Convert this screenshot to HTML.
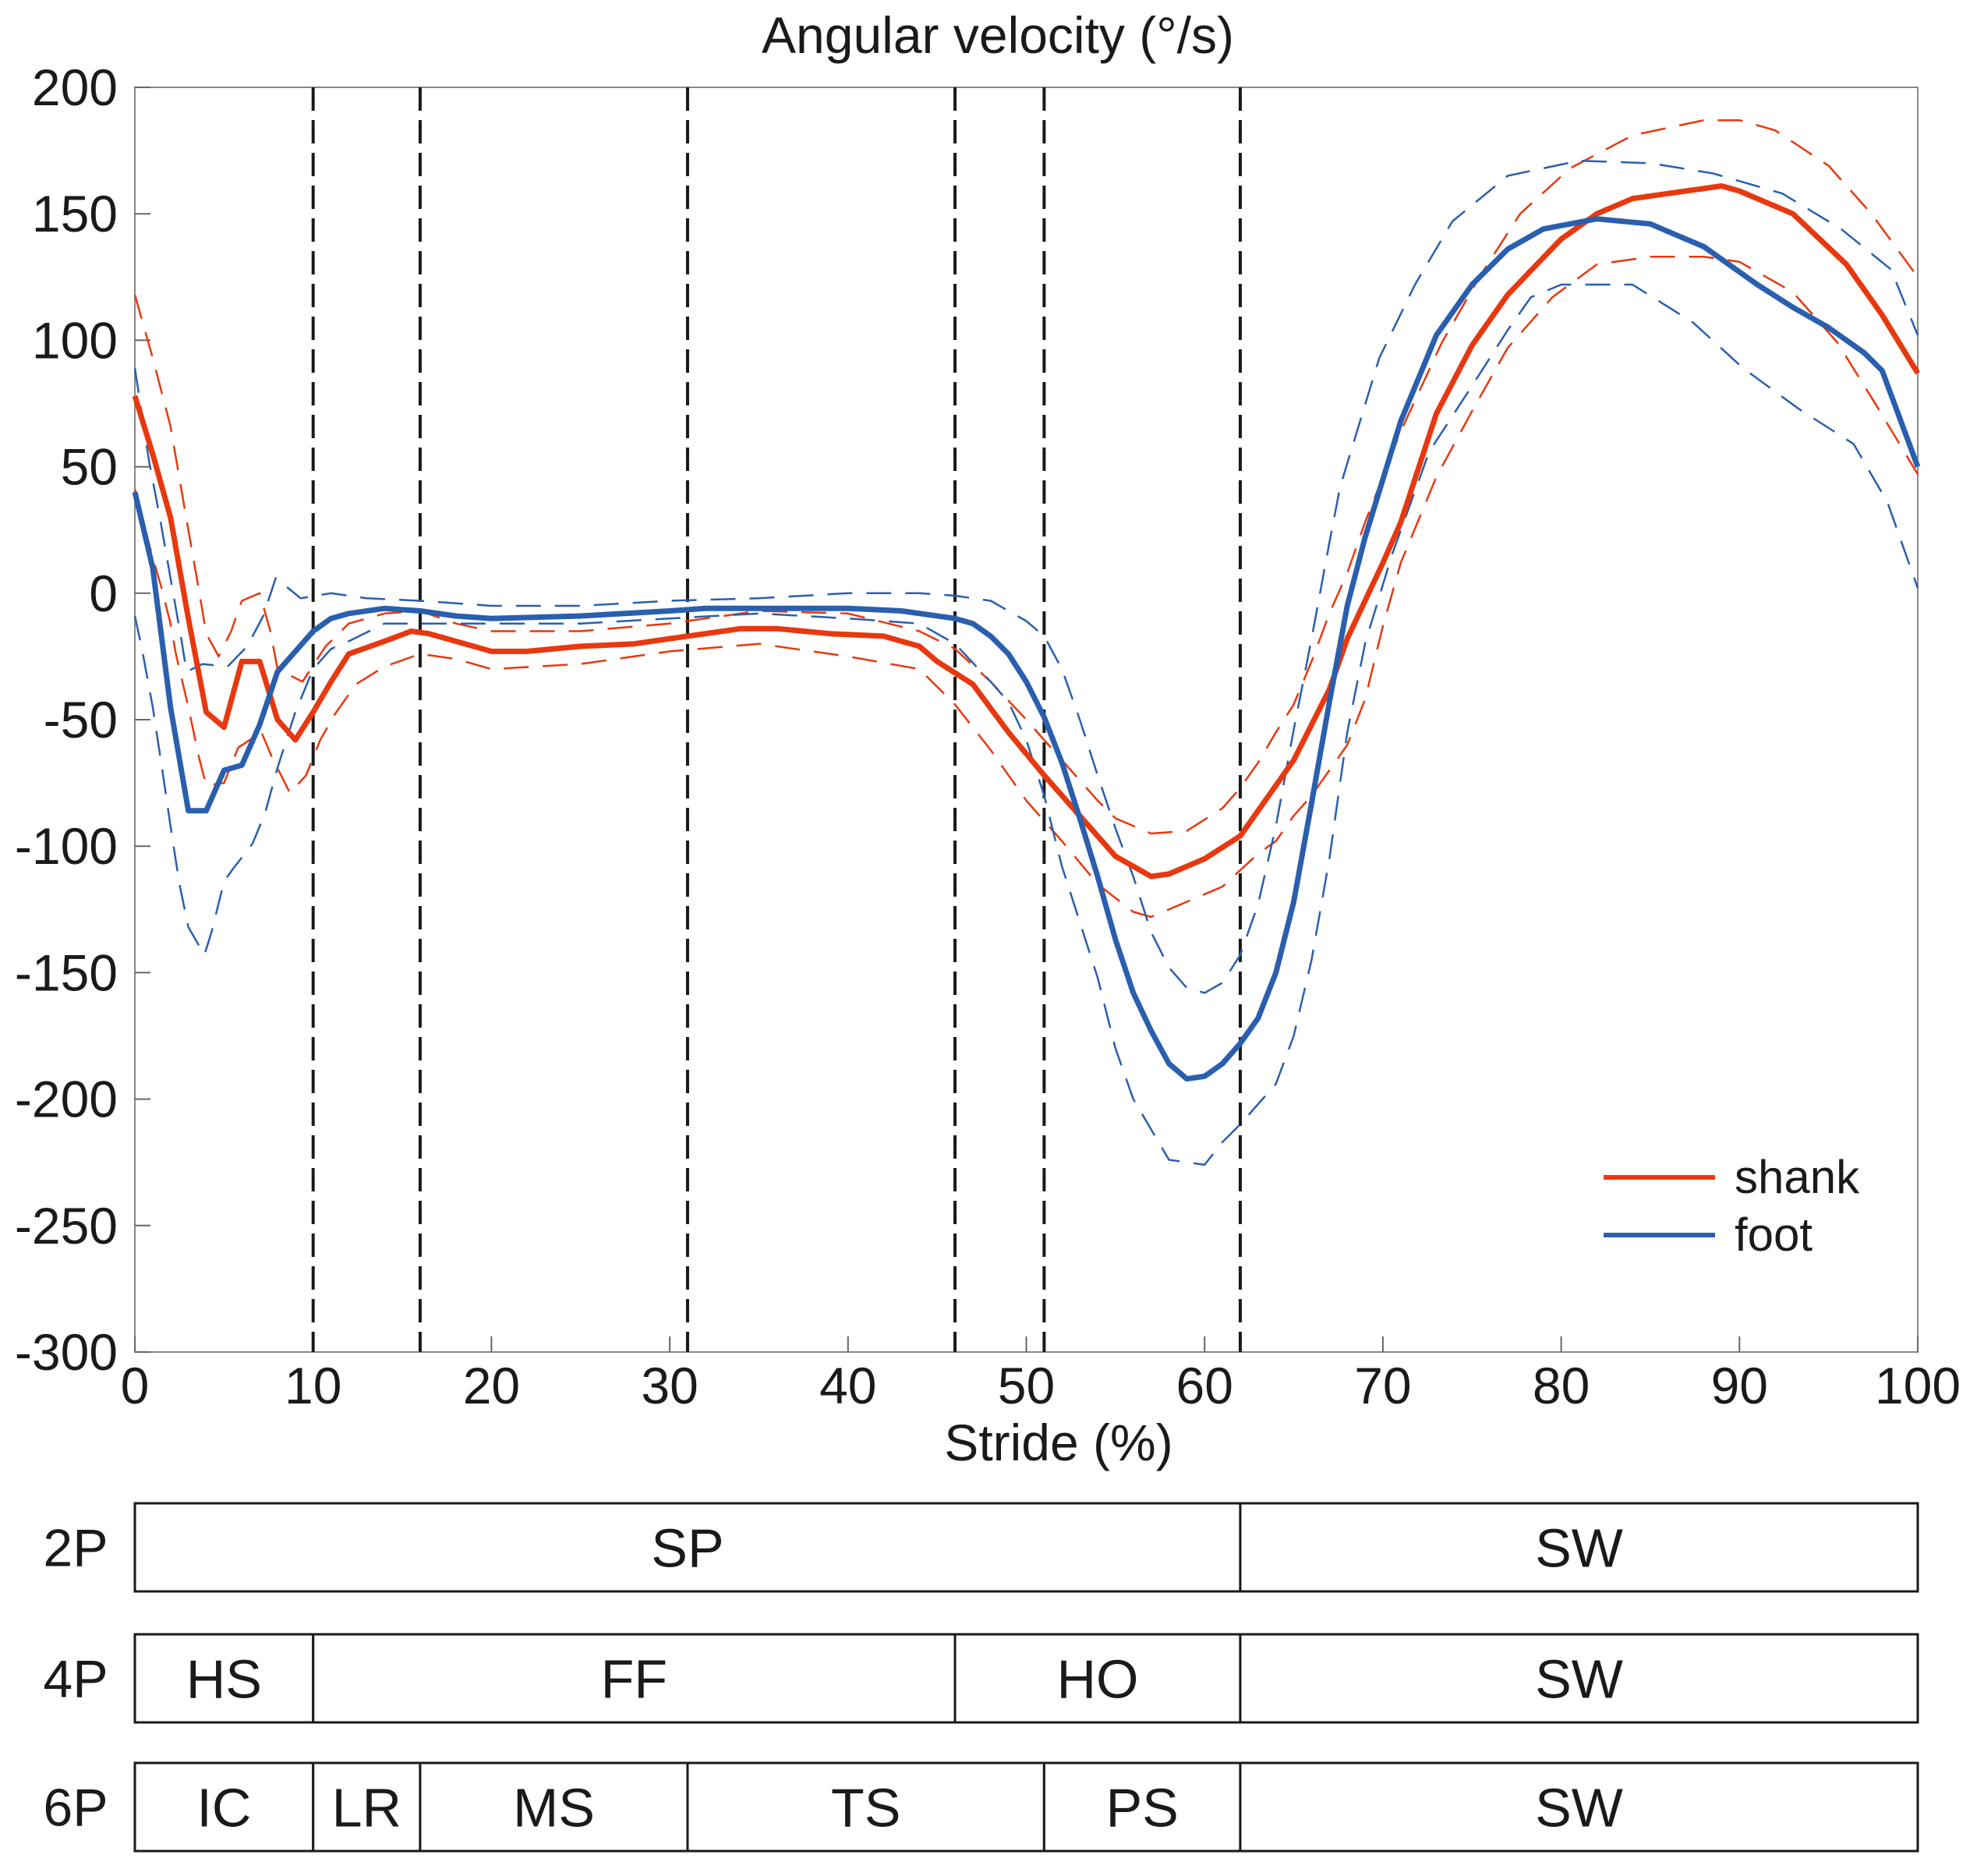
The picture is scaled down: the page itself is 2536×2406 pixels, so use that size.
<!DOCTYPE html>
<html><head><meta charset="utf-8"><style>
html,body{margin:0;padding:0;background:#fff;}
svg{display:block;font-family:"Liberation Sans",Arial,sans-serif;}
</style></head><body>
<svg id="chart" width="2536" height="2406" viewBox="0 0 2536 2406" xmlns="http://www.w3.org/2000/svg">
<text x="1280" y="68" font-size="66" text-anchor="middle" fill="#1a1a1a">Angular velocity (°/s)</text>
<text x="1358" y="1873" font-size="66" text-anchor="middle" fill="#1a1a1a">Stride (%)</text>
<g id="plot"></g>
<g id="phases"></g>
</svg>
<script>
const xTicks=[0,10,20,30,40,50,60,70,80,90,100];
const yTicks=[200,150,100,50,0,-50,-100,-150,-200,-250,-300];
const eventLines=[10,16,31,46,51,62];
const shankX=[0,1,2,3,4,5,6,7,8,9,10,11,12,14,15.5,16.5,20,22,25,28,31,34,36,39,42,44,45,47,49,51,53,55,57,58,60,62,64,65,66,67,68,69,70,71,73,75,77,80,82,84,86,89,90,93,96,98,100];
const shankMean=[78,55,30,-10,-47,-53,-27,-27,-50,-58,-47,-35,-24,-19,-15,-16,-23,-23,-21,-20,-17,-14,-14,-16,-17,-21,-27,-36,-55,-72,-88,-104,-112,-111,-105,-96,-76,-66,-52,-38,-18,-3,12,28,71,98,118,140,150,156,158,161,159,150,130,110,87];
const shankUX=[0,1,2,3,3.6,4,4.7,5.4,6,7,7.6,8,9.4,10.7,12,14,16,18,20,25,30,35,40,44,46,48,50,52,54,55,57,59,61,62,63,64,65,66,67,68,69,70,71,73.3,75.5,77.7,80.5,84,88,90,92,95,97.4,100];
const shankUpper=[118,93,66,25,1,-16,-25,-15,-3,0,-15,-30,-35,-21,-12,-8,-7,-12,-15,-15,-12,-7,-8,-15,-22,-35,-50,-66,-82,-89,-95,-94,-85,-77,-67,-55,-44,-27,-8,8,28,46,64,99,126,150,168,181,187,187,183,169,150,125];
const shankLX=[0,1,1.5,2,2.3,3,3.6,4,5,5.8,7.1,7.7,8.7,9.6,10.4,11.2,12.4,14,16,18,20,25,30,35,40,44,46,48,50,52,54,56,57,59,61,63,64,65,66,67,68,69,70,71,73,75,77,79.5,82,85,88,90,93,95.5,97.7,100];
const shankLower=[41,14,2,-12,-24,-45,-65,-76,-75,-61,-55,-65,-79,-72,-58,-48,-36,-29,-24,-26,-30,-28,-23,-20,-25,-30,-44,-62,-82,-98,-115,-126,-128,-122,-116,-103,-98,-88,-80,-70,-60,-42,-13,12,46,72,97,117,130,133,133,131,119,99,74,47];
const footX=[0,1,2,3,4,5,6,7,8,10,11,12,14,16,18,20,25,30,32,35,40,43,46,47,48,49,50,51,52,53,54,55,56,57,58,59,60,61,62,63,64,65,66,67,68,69,70,71,73,75,77,79,82,85,88,91,93,95,97,98,100];
const footMean=[40,10,-45,-86,-86,-70,-68,-52,-31,-15,-10,-8,-6,-7,-9,-10,-9,-7,-6,-6,-6,-7,-10,-12,-17,-24,-35,-49,-67,-89,-112,-137,-158,-173,-186,-192,-191,-186,-178,-168,-150,-122,-83,-43,-5,22,45,68,102,122,136,144,148,146,137,122,113,105,95,88,50];
const footUX=[0,0.8,1.4,2,2.6,2.9,3.8,5.2,6.3,7.2,7.9,9.3,11,13,16,20,25,30,35,40,44,46,48,50,51,52,53,54,55,56,57,58,59,60,61,62,63,64,65,66,67,67.6,69.8,71.8,73.9,77,81,85,88.5,92.4,95.7,98.5,100];
const footUpper=[89,52,30,6,-18,-31,-28,-29,-21,-9,6,-2,0,-2,-3,-5,-5,-3,-2,0,0,-1,-3,-11,-17,-30,-50,-72,-93,-112,-134,-148,-156,-158,-154,-143,-123,-92,-54,-18,20,42,93,122,147,165,171,170,166,158,144,128,102];
const footLX=[0,0.4,1,1.5,2,2.5,3,3.9,4.3,5,5.5,6.6,7.3,8,9,10,11,12,14,16,20,25,30,35,40,44,46,48,49,50,51,52,53,54,55,56,57,58,60,61,62,63,64,65,66,67,68,69,70.5,72.6,75,77,78.3,80,84,87.4,90.2,93.3,96.4,98.3,100];
const footLower=[-9,-22,-45,-68,-92,-115,-132,-143,-134,-114,-109,-99,-87,-69,-47,-30,-22,-19,-12,-12,-12,-12,-10,-8,-10,-12,-20,-35,-43,-58,-80,-108,-130,-152,-180,-200,-212,-224,-226,-217,-210,-202,-194,-175,-145,-105,-55,-20,15,56,82,104,117,122,122,107,89,73,59,36,2];
const phaseRows=["2P","4P","6P"];
const phaseStarts=[[0,62],[0,10,46,62],[0,10,16,31,51,62]];
const phaseLabels=[["SP","SW"],["HS","FF","HO","SW"],["IC","LR","MS","TS","PS","SW"]];

const L=173,R=2460,T=112,B=1734;
const xs=v=>L+(v/100)*(R-L);
const ys=v=>T+(200-v)/500*(B-T);
const NS="http://www.w3.org/2000/svg";
const plot=document.getElementById('plot');
function mk(tag,attrs,parent){const e=document.createElementNS(NS,tag);for(const k in attrs)e.setAttribute(k,attrs[k]);parent.appendChild(e);return e;}

const frame=mk('rect',{x:L,y:T,width:R-L,height:B-T,fill:'none',stroke:'#888','stroke-width':2},plot);


xTicks.forEach(t=>{
  const tk=mk('line',{x1:xs(t),x2:xs(t),y1:B,y2:B-20,stroke:'#666','stroke-width':2},plot);
  
  
  const tx=mk('text',{x:xs(t),y:B+66,'font-size':66,'text-anchor':'middle',fill:'#1a1a1a'},plot);
  tx.textContent=t;
  
  
});
yTicks.forEach(t=>{
  const tk=mk('line',{x1:L,x2:L+20,y1:ys(t),y2:ys(t),stroke:'#666','stroke-width':2},plot);
  
  
  const tx=mk('text',{x:L-22,y:ys(t)+23,'font-size':66,'text-anchor':'end',fill:'#1a1a1a'},plot);
  tx.textContent=t;
  
  
});
eventLines.forEach(v=>{
  const l=mk('line',{x1:xs(v),x2:xs(v),y1:T,y2:B,stroke:'#1a1a1a','stroke-width':4,'stroke-dasharray':'30 12'},plot);
  
  
});
function series(X,Y,color,w,dash,name){
  const pts=X.map((x,i)=>xs(x).toFixed(1)+','+ys(Y[i]).toFixed(1)).join(' ');
  const a={points:pts,fill:'none',stroke:color,'stroke-width':w,'stroke-linejoin':'round'};
  if(dash)a['stroke-dasharray']=dash;
  const p=mk('polyline',a,plot);
  
  
}
const RED='#e8380f',BLUE='#2a5fae';
series(shankUX,shankUpper,RED,2.5,'32 18','shank-upper-band');
series(shankLX,shankLower,RED,2.5,'32 18','shank-lower-band');
series(footUX,footUpper,BLUE,2.5,'32 18','foot-upper-band');
series(footLX,footLower,BLUE,2.5,'32 18','foot-lower-band');
series(shankX,shankMean,RED,7,null,'shank-mean-line');
series(footX,footMean,BLUE,7,null,'foot-mean-line');

const lg=mk('g',{},plot);


[['shank',RED,1510],['foot',BLUE,1584]].forEach(([n,c,y])=>{
  const l=mk('line',{x1:2057,x2:2200,y1:y,y2:y,stroke:c,'stroke-width':6},lg);
  
  
  const t=mk('text',{x:2225,y:y+20,'font-size':60,fill:'#1a1a1a'},lg);
  t.textContent=n;
  
  
});

const ph=document.getElementById('phases');
const rowY=[1928,2096,2261],rowH=113;
phaseRows.forEach((r,i)=>{
  const lab=mk('text',{x:97,y:rowY[i]+rowH/2+24,'font-size':68,'text-anchor':'middle',fill:'#1a1a1a'},ph);
  lab.textContent=r;
  
  
  const st=phaseStarts[i];
  st.forEach((s,j)=>{
    const e=j+1<st.length?st[j+1]:100;
    const rc=mk('rect',{x:xs(s),y:rowY[i],width:xs(e)-xs(s),height:rowH,fill:'#fff',stroke:'#1a1a1a','stroke-width':3},ph);
    
    
    const t=mk('text',{x:(xs(s)+xs(e))/2,y:rowY[i]+rowH/2+25,'font-size':70,'text-anchor':'middle',fill:'#1a1a1a'},ph);
    t.textContent=phaseLabels[i][j];
    
    
  });
});
</script>
</body></html>
